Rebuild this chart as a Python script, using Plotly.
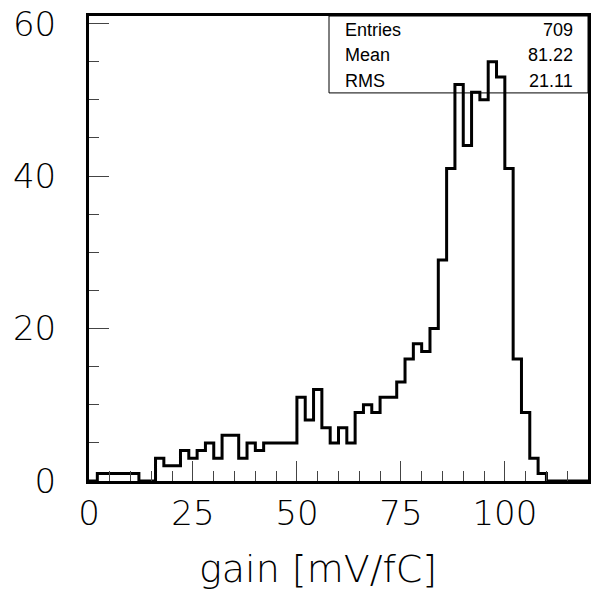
import plotly.graph_objects as go

# Histogram of channel gains: 60 bins of width 2 mV/fC from 0 to 120
bin_width = 2
bin_low_edges = [2 * i for i in range(60)]
bin_counts = [
    0, 1, 1, 1, 1, 1, 0, 0, 3, 2,
    2, 4, 3, 4, 5, 3, 6, 6, 3, 5,
    4, 5, 5, 5, 5, 11, 8, 12, 7, 5,
    7, 5, 9, 10, 9, 11, 11, 13, 16, 18,
    17, 20, 29, 41, 52, 44, 51, 50, 55, 53,
    41, 16, 9, 3, 1, 0, 0, 0, 0, 0,
]

stat_labels = ["Entries", "Mean", "RMS"]
stat_values = [str(sum(bin_counts)), "81.22", "21.11"]

x_ticks = [0, 25, 50, 75, 100]
y_ticks = [0, 20, 40, 60]
x_title = "gain [mV/fC]"

# step outline: one point per bin edge, horizontal then vertical
step_x = bin_low_edges + [bin_low_edges[-1] + bin_width]
step_y = bin_counts + [bin_counts[-1]]

W, H = 596, 604
L, R, T, B = 89, 588, 16, 481.5  # plot frame in pixels


def px_x(p):
    return (p - L) / (R - L)


def px_y(p):
    return (B - p) / (B - T)


fig = go.Figure()
fig.add_trace(go.Scatter(
    x=step_x, y=step_y, mode="lines", line_shape="hv",
    line=dict(color="black", width=3), hoverinfo="skip", showlegend=False,
))

tick_font = dict(family="DejaVu Sans", size=34, color="black", weight=300)
tick_color = "#444"

fig.update_layout(
    width=W, height=H,
    margin=dict(l=L, r=W - R, t=T, b=H - B, pad=0, autoexpand=False),
    paper_bgcolor="white", plot_bgcolor="white",
    showlegend=False,
    xaxis=dict(
        range=[0, 120], tickvals=x_ticks, ticks="inside", ticklen=20,
        tickwidth=1, tickcolor=tick_color, tickfont=tick_font,
        showline=True, linecolor="black", linewidth=3, mirror=True,
        showgrid=False, zeroline=False, ticklabelstandoff=0,
        automargin=False,
        minor=dict(dtick=5, ticks="inside", ticklen=10, tickwidth=1,
                   tickcolor=tick_color, showgrid=False),
    ),
    yaxis=dict(
        range=[0, 61], tickvals=y_ticks, ticks="inside", ticklen=20,
        tickwidth=1, tickcolor=tick_color, tickfont=tick_font,
        showline=True, linecolor="black", linewidth=3, mirror=True,
        showgrid=False, zeroline=False, ticklabelstandoff=23,
        automargin=False,
        minor=dict(dtick=5, ticks="inside", ticklen=10, tickwidth=1,
                   tickcolor=tick_color, showgrid=False),
    ),
)

# statistics box in the upper right corner
fig.add_shape(
    type="rect", xref="paper", yref="paper",
    x0=px_x(329), x1=1.0, y0=px_y(93), y1=1.0,
    line=dict(color="black", width=1), fillcolor="rgba(0,0,0,0)",
)
stat_font = dict(family="Liberation Sans", size=18, color="black")
for i, (lab, val) in enumerate(zip(stat_labels, stat_values)):
    yp = px_y(30 + 25.5 * i)
    fig.add_annotation(x=px_x(343), y=yp, xref="paper", yref="paper",
                       text=lab, showarrow=False, xanchor="left",
                       yanchor="middle", font=stat_font)
    fig.add_annotation(x=px_x(575), y=yp, xref="paper", yref="paper",
                       text=val, showarrow=False, xanchor="right",
                       yanchor="middle", font=stat_font)

# axis title
fig.add_annotation(
    x=px_x(318), y=px_y(570), xref="paper", yref="paper",
    text=x_title, showarrow=False, xanchor="center", yanchor="middle",
    font=dict(family="DejaVu Sans", size=38, color="black", weight=300),
)

fig.write_html("out.html")
